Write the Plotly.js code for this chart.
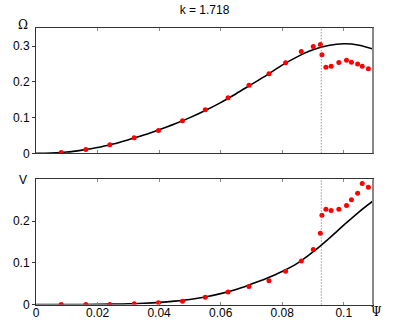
<!DOCTYPE html>
<html>
<head>
<meta charset="utf-8">
<script src="https://cdn.plot.ly/plotly-3.0.1.min.js"></script>
<style>html,body{margin:0;padding:0;background:#fff;}#chart{width:395px;height:331px;}</style>
</head>
<body>
<div id="chart"></div>
<script>
// Data
var titleText = "k = 1.718";
var psiCurve   = [0, 0.005, 0.01, 0.015, 0.02, 0.025, 0.03, 0.035, 0.04, 0.045, 0.05, 0.055, 0.06, 0.065, 0.07, 0.075, 0.08, 0.085, 0.09, 0.095, 0.1, 0.105, 0.1095];
var omegaCurve = [0, 0.001, 0.0035, 0.009, 0.016, 0.026, 0.038, 0.051, 0.066, 0.082, 0.100, 0.120, 0.142, 0.167, 0.193, 0.219, 0.247, 0.271, 0.290, 0.302, 0.307, 0.303, 0.292];
var vCurve     = [0, 0, 0, 0.0001, 0.0003, 0.0008, 0.0015, 0.003, 0.005, 0.008, 0.012, 0.018, 0.026, 0.036, 0.049, 0.063, 0.079, 0.099, 0.126, 0.157, 0.190, 0.222, 0.248];
var psiPts   = [0.0082, 0.0162, 0.0240, 0.0319, 0.0398, 0.0476, 0.0550, 0.0624, 0.0692, 0.0757, 0.0811, 0.0862, 0.0901, 0.0924, 0.0929, 0.0942, 0.0959, 0.0984, 0.1009, 0.1025, 0.1045, 0.1060, 0.1080];
var omegaPts = [0.002, 0.0103, 0.0243, 0.0438, 0.0642, 0.0913, 0.122, 0.156, 0.191, 0.223, 0.2537, 0.285, 0.299, 0.3047, 0.276, 0.2415, 0.244, 0.2545, 0.261, 0.2555, 0.250, 0.244, 0.237];
var vPts     = [0, 0, 0, 0.0016, 0.004, 0.008, 0.0175, 0.030, 0.043, 0.057, 0.0796, 0.104, 0.132, 0.171, 0.214, 0.228, 0.225, 0.228, 0.237, 0.251, 0.2665, 0.290, 0.281];
var criticalPsi = 0.0927;
var xTickVals = [0, 0.02, 0.04, 0.06, 0.08, 0.1];
var yTopTicks = [0, 0.1, 0.2, 0.3];
var yBotTicks = [0, 0.1, 0.2];

var font = {family: "Liberation Sans, Arial, sans-serif", size: 12, color: "#000"};

var traces = [
  {x: psiCurve, y: omegaCurve, xaxis: "x", yaxis: "y", mode: "lines", line: {color: "#000", width: 1.6, shape: "spline"}, hoverinfo: "skip"},
  {x: psiPts, y: omegaPts, xaxis: "x", yaxis: "y", mode: "markers", marker: {color: "#ff0000", size: 5}},
  {x: psiCurve, y: vCurve, xaxis: "x2", yaxis: "y2", mode: "lines", line: {color: "#000", width: 1.6, shape: "spline"}, hoverinfo: "skip"},
  {x: psiPts, y: vPts, xaxis: "x2", yaxis: "y2", mode: "markers", marker: {color: "#ff0000", size: 5}}
];

var xCommon = {range: [0, 0.1095], showgrid: false, zeroline: false, showline: true, linecolor: "#333", linewidth: 1, mirror: "ticks",
  ticks: "inside", ticklen: 3, tickcolor: "#888", tickvals: xTickVals, tickfont: font};
var yCommon = {showgrid: false, zeroline: false, showline: true, linecolor: "#333", linewidth: 1, mirror: true,
  ticks: "outside", ticklen: 3, tickcolor: "#333", tickfont: font};

var layout = {
  width: 395, height: 331,
  margin: {l: 36, r: 22, t: 0, b: 0},
  paper_bgcolor: "#fff", plot_bgcolor: "#fff",
  showlegend: false,
  font: font,
  title: {text: titleText, font: font, x: 0.5, xref: "paper", y: 1 - 10/331, yref: "container", yanchor: "middle"},
  xaxis: Object.assign({}, xCommon, {anchor: "y", showticklabels: false, domain: [0, 1]}),
  xaxis2: Object.assign({}, xCommon, {anchor: "y2", showticklabels: true, ticklabelstandoff: -3, domain: [0, 1]}),
  yaxis: Object.assign({}, yCommon, {range: [0, 0.352], tickvals: yTopTicks, domain: [1 - 153.3/331, 1 - 27.7/331]}),
  yaxis2: Object.assign({}, yCommon, {range: [0, 0.3], tickvals: yBotTicks, domain: [1 - 304.5/331, 1 - 179.3/331]}),
  shapes: [
    {type: "line", xref: "x", yref: "y domain", x0: criticalPsi, x1: criticalPsi, y0: 0, y1: 1, line: {color: "#666", width: 1, dash: "1px,2px"}},
    {type: "line", xref: "x2", yref: "y2 domain", x0: criticalPsi, x1: criticalPsi, y0: 0, y1: 1, line: {color: "#666", width: 1, dash: "1px,2px"}},
    {type: "line", xref: "x domain", yref: "y domain", x0: 1, x1: 1, y0: 0, y1: 1, line: {color: "#888", width: 2}},
    {type: "line", xref: "x2 domain", yref: "y2 domain", x0: 1, x1: 1, y0: 0, y1: 1, line: {color: "#888", width: 2}}
  ],
  annotations: [
    {text: "Ω", xref: "paper", yref: "paper", x: -13/337, y: 1 - 25/331, showarrow: false, xanchor: "center", yanchor: "middle", font: {family: "DejaVu Serif, serif", size: 12, color: "#000"}},
    {text: "V", xref: "paper", yref: "paper", x: -13/337, y: 1 - 180/331, showarrow: false, xanchor: "center", yanchor: "middle", font: font},
    {text: "Ψ", xref: "paper", yref: "paper", x: 1 + 3/337, y: 1 - 312/331, showarrow: false, xanchor: "center", yanchor: "middle", font: {family: "DejaVu Serif, serif", size: 12, color: "#000"}}
  ]
};

Plotly.newPlot("chart", traces, layout, {displayModeBar: false, staticPlot: true});
</script>
</body>
</html>
